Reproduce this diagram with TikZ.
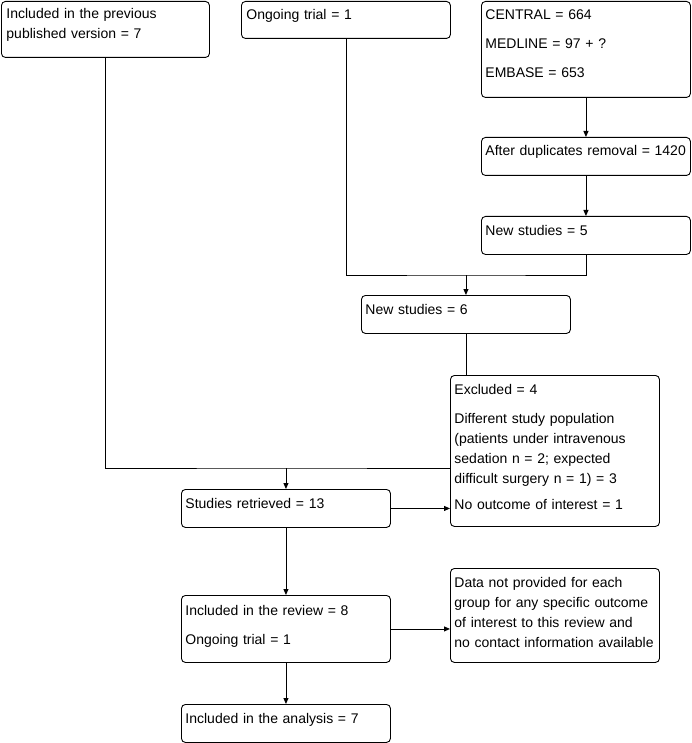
\documentclass[tikz,border=0pt]{standalone}
\usepackage{fontspec}
\setmainfont{Liberation Sans}
\usetikzlibrary{arrows.meta}

\begin{document}
\begin{tikzpicture}[x=1pt,y=-1pt,line width=0.9pt,
box/.style={draw,rounded corners=4pt,anchor=north west,minimum width=209pt,inner sep=0pt},
txt/.style={anchor=base west,inner sep=0pt,align=left,text width=206pt,font=\fontsize{14}{20}\selectfont},
arr/.style={-{Triangle[length=6pt,width=5pt]}}
]
\useasboundingbox (0,0) rectangle (692,743);

% boxes
\node[box,minimum width=208pt,minimum height=56pt] (prev) at (1,1) {};
\node[box,minimum height=37pt] (ongoing) at (241,1) {};
\node[box,minimum height=96pt] (search) at (481,1) {};
\node[box,minimum height=38pt] (dup) at (481,137) {};
\node[box,minimum height=38pt] (new5) at (481,216) {};
\node[box,minimum height=38pt] (new6) at (361,295) {};
\node[box,minimum height=151pt] (excl) at (450,375) {};
\node[box,minimum height=38pt] (retr) at (181,489) {};
\node[box,minimum height=67pt] (review) at (181,595) {};
\node[box,minimum height=94pt] (nodata) at (450,568) {};
\node[box,minimum height=38pt] (analysis) at (181,704) {};

% texts
\node[txt] (prev-t) at ([shift={(5pt,-18pt)}]prev.north west) {Included in the previous\\published version = 7};
\node[txt] (ongoing-t) at ([shift={(5pt,-19pt)}]ongoing.north west) {Ongoing trial = 1};
\node[txt] (search-t) at ([shift={(4pt,-19pt)}]search.north west) {CENTRAL = 664\\[9pt]MEDLINE = 97 + ?\\[9pt]EMBASE = 653};
\node[txt] (dup-t) at ([shift={(4pt,-19pt)}]dup.north west) {After duplicates removal = 1420};
\node[txt] (new5-t) at ([shift={(4pt,-19pt)}]new5.north west) {New studies = 5};
\node[txt] (new6-t) at ([shift={(4pt,-19pt)}]new6.north west) {New studies = 6};
\node[txt] (excl-t) at ([shift={(4pt,-19pt)}]excl.north west) {Excluded = 4\\[9pt]Different study population\\(patients under intravenous\\sedation n = 2; expected\\difficult surgery n = 1) = 3\\[6pt]No outcome of interest = 1};
\node[txt] (retr-t) at ([shift={(4pt,-19pt)}]retr.north west) {Studies retrieved = 13};
\node[txt] (review-t) at ([shift={(4pt,-20pt)}]review.north west) {Included in the review = 8\\[9pt]Ongoing trial = 1};
\node[txt] (nodata-t) at ([shift={(4pt,-19pt)}]nodata.north west) {Data not provided for each\\group for any specific outcome\\of interest to this review and\\no contact information available};
\node[txt] (analysis-t) at ([shift={(4pt,-19pt)}]analysis.north west) {Included in the analysis = 7};

% connectors
\coordinate (m1) at (new6.north |- 0,275);
\coordinate (m2) at (retr.north |- 0,468);
\draw[arr] (search) -- (dup);
\draw[arr] (dup) -- (new5);
\draw (ongoing.south) |- (m1) -| (new5.south);
\draw[arr] (m1) -- (new6);
\draw (new6.south) -- (new6.south |- excl.north);
\draw (prev.south) |- (m2) -- (m2 -| excl.west);
\draw[arr] (m2) -- (retr);
\draw[arr] (retr.east) -- (retr.east -| excl.west);
\draw[arr] (retr) -- (review);
\draw[arr] (review.east) -- (review.east -| nodata.west);
\draw[arr] (review) -- (analysis);
\end{tikzpicture}
\end{document}
